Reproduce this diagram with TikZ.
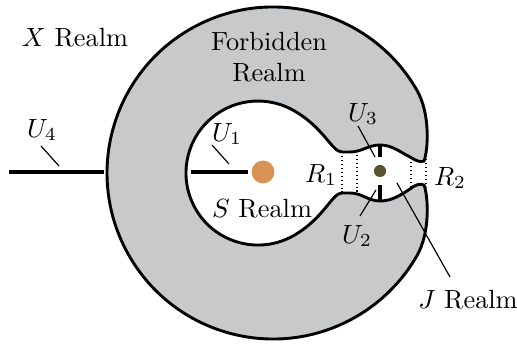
\documentclass[tikz,border=0pt]{standalone}
\usepackage{amsmath,amssymb}
\usepackage{tikz}
\usetikzlibrary{arrows.meta,positioning,calc}
\usepackage{xcolor}
\definecolor{forbidgray}{RGB}{200,201,203}
\definecolor{sunorange}{RGB}{216,146,84}
\definecolor{jolive}{RGB}{90,82,48}

\begin{document}
\begin{tikzpicture}[x=0.38pt, y=-0.38pt,
  wall/.style={draw=black, line width=1.1pt, fill=forbidgray},
  uline/.style={line width=1.2pt},
  leader/.style={line width=0.45pt},
  gate/.style={line width=0.5pt, densely dotted}]

  \useasboundingbox (0,0) rectangle (517,344);

  % Draw the forbidden realm (outer boundary, then S and J realms)
  \draw[wall] (416.8,90) arc[start angle=-30, end angle=-330, radius=166]
    .. controls (430.8,231.8) and (428,195) .. (424,185)
    .. controls (420,183) and (415,185) .. (410,189)
    .. controls (398,197) and (390,201) .. (380,201)
    .. controls (368,201) and (362,193) .. (350,193)
    -- (342,193)
    .. controls (332,193) and (324.3,217.9) .. (294,235.4)
    arc[start angle=60, end angle=300, radius=72]
    .. controls (324.3,128.1) and (332,152) .. (342,152)
    -- (350,152)
    .. controls (362,152) and (368,145) .. (380,145)
    .. controls (392,145) and (400,152) .. (410,157)
    .. controls (415,160) and (420,163) .. (424,161)
    .. controls (428,151) and (430.8,114.2) .. (416.8,90)
    -- cycle;

  % Define coordinates for the U lines and gates
  \coordinate (u4a) at (9,172);
  \coordinate (u4b) at (104,172);
  \coordinate (u1a) at (191,172);
  \coordinate (jtop) at (380,145);
  \coordinate (jbot) at (380,201);
  \coordinate (r1a) at (342,152);
  \coordinate (r1b) at (342,193);
  \coordinate (r1c) at (357,151);
  \coordinate (r1d) at (357,193);
  \coordinate (r2a) at (411,158);
  \coordinate (r2b) at (411,188);
  \coordinate (r2c) at (426,159);
  \coordinate (r2d) at (426,187);

  % Bodies
  \node[circle, fill=sunorange, inner sep=0pt, minimum size=8.7pt] (sun) at (263,172) {};
  \node[circle, fill=jolive, inner sep=0pt, minimum size=4.6pt] (jdot) at (380,171) {};

  % Labels
  \node (X) at (75,38) {$X$ Realm};
  \node[align=center] (F) at (269,57) {Forbidden\\Realm};
  \node (S) at (262,209) {$S$ Realm};
  \node (J) at (468,300) {$J$ Realm};
  \node (U4) at (42,130) {$U_4$};
  \node (U1) at (227,134) {$U_1$};
  \node (U3) at (363,114) {$U_3$};
  \node (U2) at (357,236) {$U_2$};
  \node (R1) at (321,175) {$R_1$};
  \node (R2) at (450,178) {$R_2$};

  % Leader end points
  \coordinate (l4a) at (41,146);
  \coordinate (l4b) at (59,166);
  \coordinate (l1a) at (212,145);
  \coordinate (l1b) at (229,164);
  \coordinate (l3a) at (358,126);
  \coordinate (l3b) at (375,157);
  \coordinate (l2a) at (376,190);
  \coordinate (l2b) at (360,216);
  \coordinate (lja) at (397,183);
  \coordinate (ljb) at (450,277);

  % Draw U lines
  \draw[uline] (u4a) -- (u4b);
  \draw[uline, shorten >=1pt] (u1a) -- (sun.west);
  \draw[uline, shorten >=3pt] (jtop) -- (jdot);
  \draw[uline, shorten >=3pt] (jbot) -- (jdot);

  % Draw gates
  \draw[gate] (r1a) -- (r1b);
  \draw[gate] (r1c) -- (r1d);
  \draw[gate] (r2a) -- (r2b);
  \draw[gate] (r2c) -- (r2d);

  % Draw leaders
  \draw[leader] (l4a) -- (l4b);
  \draw[leader] (l1a) -- (l1b);
  \draw[leader] (l3a) -- (l3b);
  \draw[leader] (l2a) -- (l2b);
  \draw[leader] (lja) -- (ljb);
\end{tikzpicture}
\end{document}
